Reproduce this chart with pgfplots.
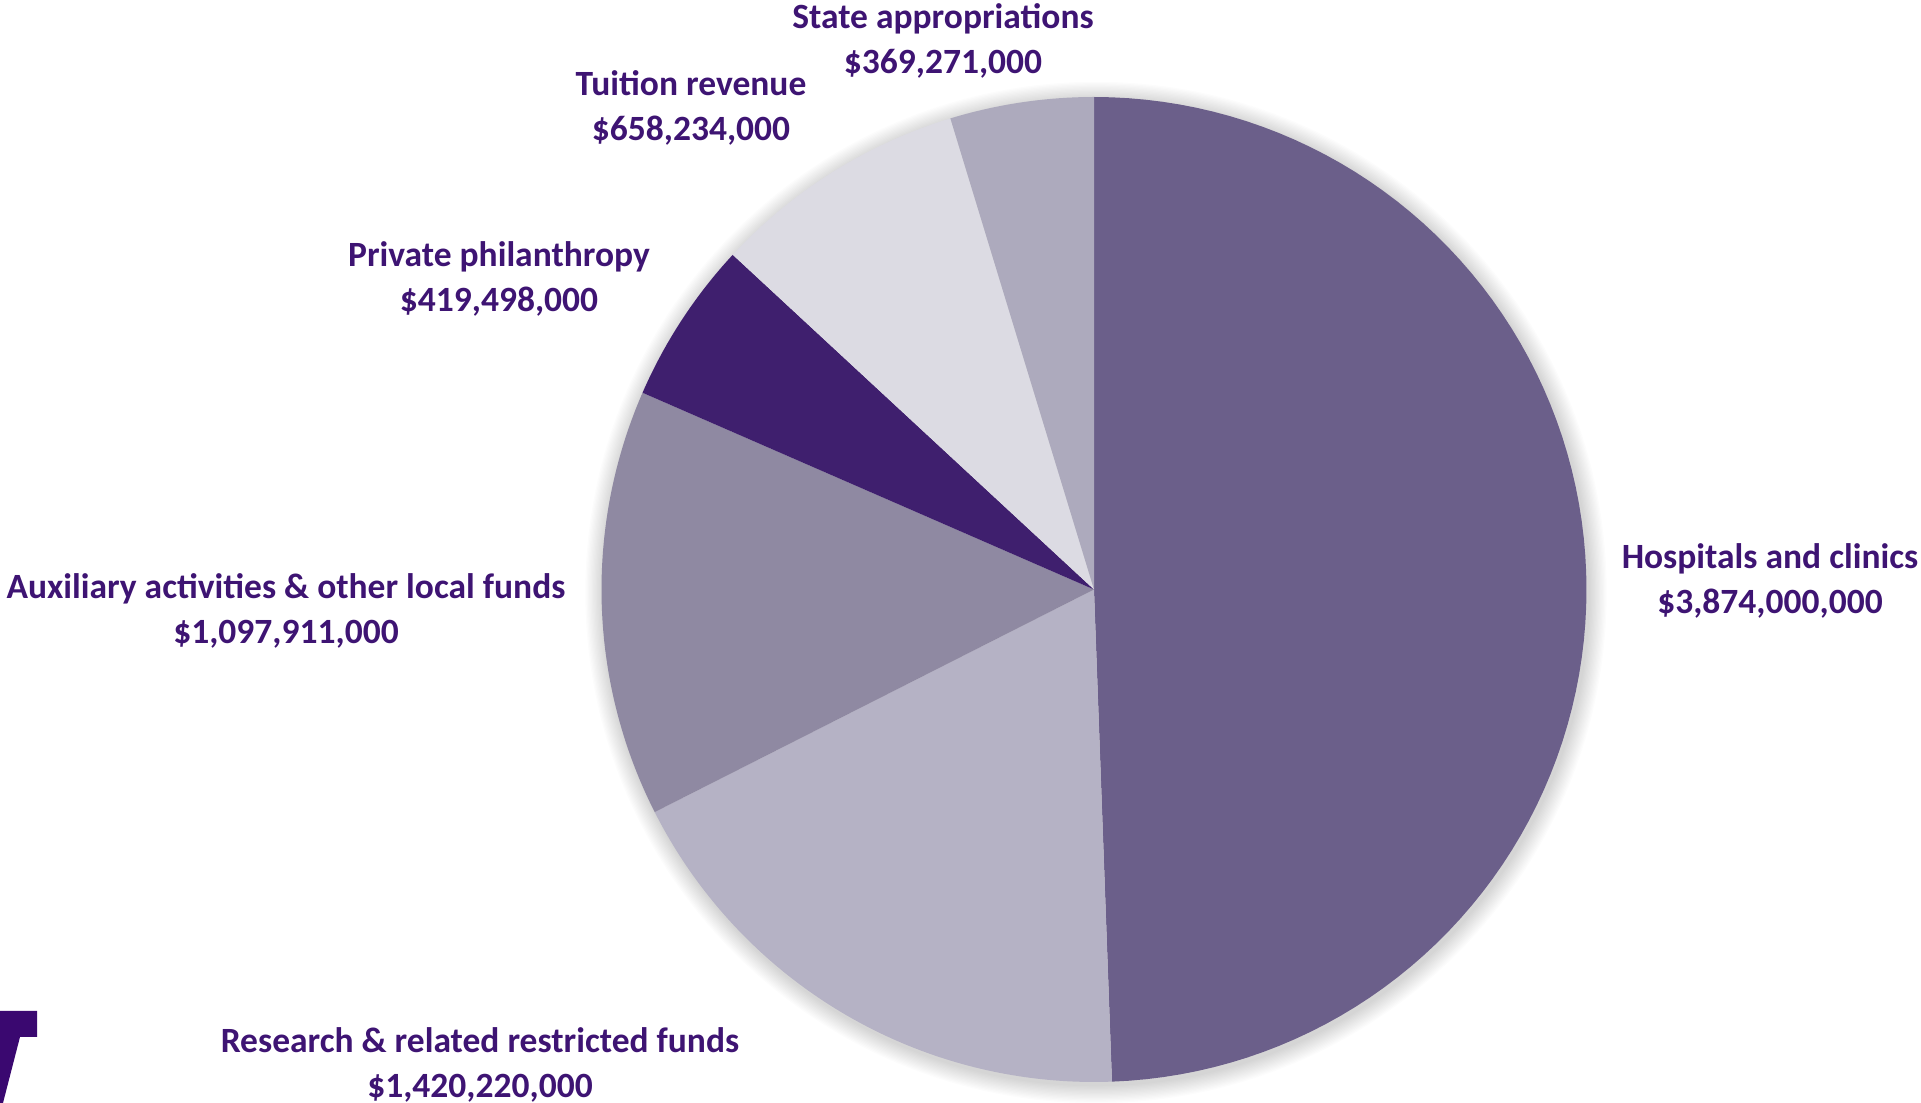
\documentclass[border=0pt]{standalone}
\usepackage{pgfplots}
\pgfplotsset{compat=1.18}
\usepackage{fontspec}
\setmainfont{Carlito}
\definecolor{txt}{RGB}{62,20,115}
\definecolor{cHosp}{RGB}{107,95,138}
\definecolor{cRes}{RGB}{181,178,197}
\definecolor{cAux}{RGB}{143,137,162}
\definecolor{cPhil}{RGB}{63,31,110}
\definecolor{cTuit}{RGB}{220,219,227}
\definecolor{cState}{RGB}{173,170,189}
\definecolor{logo}{RGB}{58,8,112}
% values in millions of dollars
\def\vHosp{3874}
\def\vRes{1420.220}
\def\vAux{1097.911}
\def\vPhil{419.498}
\def\vTuit{658.234}
\def\vState{369.271}
\pgfmathsetmacro{\total}{\vHosp+\vRes+\vAux+\vPhil+\vTuit+\vState}
\pgfmathsetmacro{\aA}{90}
\pgfmathsetmacro{\aB}{\aA-360*(\vHosp/\total)}
\pgfmathsetmacro{\aC}{\aB-360*(\vRes/\total)}
\pgfmathsetmacro{\aD}{\aC-360*(\vAux/\total)}
\pgfmathsetmacro{\aE}{\aD-360*(\vPhil/\total)}
\pgfmathsetmacro{\aF}{\aE-360*(\vTuit/\total)}
\pgfmathsetmacro{\aG}{\aF-360*(\vState/\total)}
\def\cx{1094}
\def\cy{513.5}
\def\R{492.5}
\newcommand{\slice}[3]{%
  \addplot[fill=#3, draw=none, domain=#2:#1, samples=90]
    ({\cx+\R*cos(x)}, {\cy+\R*sin(x)}) -- (axis cs:\cx,\cy) -- cycle;}
\tikzset{lbl/.style={font=\fontsize{10.1}{12.6}\selectfont\bfseries, text=txt, align=center, inner sep=0pt}}
\begin{document}
\begin{tikzpicture}
\begin{axis}[
  width=19.21cm, height=11.03cm, scale only axis,
  xmin=0, xmax=1921, ymin=0, ymax=1103,
  hide axis, clip=false,
]
% soft shadow
\foreach \k in {1,...,14}{
  \edef\tmp{\noexpand\fill[black, fill opacity=0.011] (axis cs:\cx+2,\cy-3) circle [radius=\R+1.3*\k];}
  \tmp
}
\slice{\aA}{\aB}{cHosp}
\slice{\aB}{\aC}{cRes}
\slice{\aC}{\aD}{cAux}
\slice{\aD}{\aE}{cPhil}
\slice{\aE}{\aF}{cTuit}
\slice{\aF}{\aG}{cState}
% logo fragment
\addplot[fill=logo, draw=none] coordinates {(0,92) (37,92) (37,66) (20,66) (3,0) (0,0)} -- cycle;
% labels
\node[lbl] at (axis cs:943,1062) {State appropriations\\\$369,271,000};
\node[lbl] at (axis cs:691,995) {Tuition revenue\\\$658,234,000};
\node[lbl] at (axis cs:499,824) {Private philanthropy\\\$419,498,000};
\node[lbl] at (axis cs:286,492) {Auxiliary activities \& other local funds\\\$1,097,911,000};
\node[lbl] at (axis cs:480,38) {Research \& related restricted funds\\\$1,420,220,000};
\node[lbl] at (axis cs:1770,522) {Hospitals and clinics\\\$3,874,000,000};
\end{axis}
\pgfresetboundingbox
\path (current axis.south west) rectangle (current axis.north east);
\end{tikzpicture}
\end{document}
